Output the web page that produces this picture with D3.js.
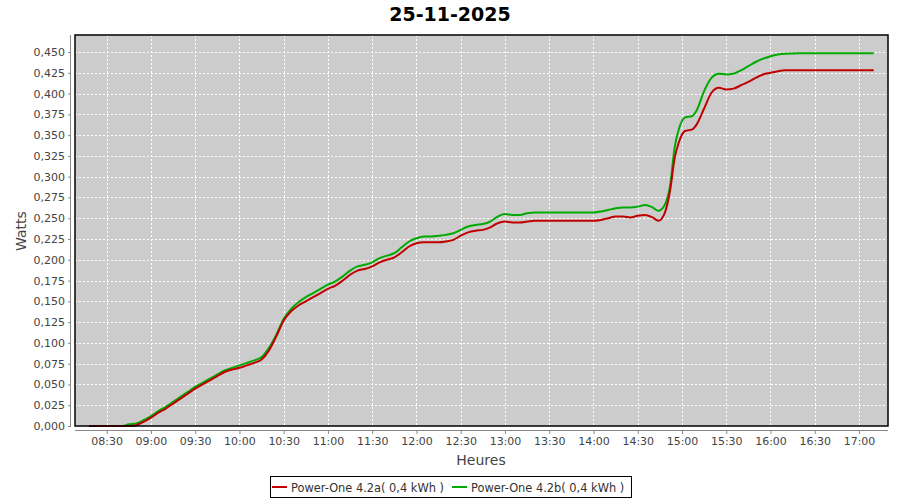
<!DOCTYPE html>
<html><head><meta charset="utf-8">
<script src="https://cdn.jsdelivr.net/npm/d3@7"></script>
<style>body{margin:0;background:#fff;}svg{display:block;font-family:"DejaVu Sans",sans-serif;}</style>
</head><body><svg id="c" width="900" height="500"></svg>
<script>
const title = "25-11-2025";
const times = ["08:18","08:40","08:45","08:50","08:55","09:00","09:05","09:10","09:15","09:20","09:25","09:30","09:35","09:40","09:45","09:50","09:55","10:00","10:05","10:10","10:15","10:20","10:25","10:30","10:35","10:40","10:45","10:50","10:55","11:00","11:05","11:10","11:15","11:20","11:25","11:30","11:35","11:40","11:45","11:50","11:55","12:00","12:05","12:10","12:15","12:20","12:25","12:30","12:35","12:40","12:45","12:50","12:55","13:00","13:05","13:10","13:15","13:20","13:30","13:45","14:00","14:05","14:10","14:15","14:20","14:25","14:30","14:35","14:40","14:44","14:48","14:52","14:55","14:58","15:02","15:07","15:10","15:15","15:20","15:25","15:30","15:35","15:40","15:45","15:50","15:55","16:00","16:05","16:10","16:20","17:10"];
const seriesA = [0,0,0,0.001,0.005,0.010,0.016,0.021,0.027,0.033,0.039,0.045,0.050,0.055,0.060,0.065,0.068,0.070,0.073,0.076,0.080,0.091,0.108,0.127,0.138,0.145,0.150,0.155,0.160,0.165,0.169,0.175,0.182,0.187,0.189,0.192,0.197,0.200,0.203,0.209,0.216,0.220,0.221,0.221,0.221,0.222,0.224,0.229,0.233,0.235,0.236,0.239,0.244,0.246,0.245,0.245,0.246,0.247,0.247,0.247,0.247,0.248,0.250,0.252,0.252,0.251,0.253,0.254,0.251,0.247,0.255,0.284,0.322,0.342,0.355,0.357,0.363,0.382,0.401,0.407,0.405,0.406,0.410,0.414,0.419,0.423,0.425,0.427,0.428,0.428,0.428];
const seriesB = [0,0,0.002,0.003,0.007,0.012,0.018,0.023,0.029,0.035,0.041,0.047,0.052,0.057,0.062,0.067,0.070,0.073,0.076,0.079,0.083,0.094,0.110,0.129,0.141,0.149,0.155,0.160,0.165,0.170,0.174,0.180,0.187,0.192,0.194,0.197,0.202,0.205,0.208,0.215,0.222,0.226,0.228,0.228,0.229,0.230,0.232,0.236,0.240,0.242,0.243,0.246,0.252,0.255,0.254,0.254,0.256,0.257,0.257,0.257,0.257,0.258,0.260,0.262,0.263,0.263,0.264,0.266,0.263,0.259,0.265,0.290,0.335,0.358,0.371,0.373,0.380,0.403,0.419,0.424,0.423,0.424,0.428,0.433,0.438,0.442,0.445,0.447,0.448,0.4485,0.4485];
const seriesNames = ["Power-One 4.2a( 0,4 kWh )","Power-One 4.2b( 0,4 kWh )"];
const seriesColors = ["#c00000","#00aa00"];
const xTickLabels = ["08:30","09:00","09:30","10:00","10:30","11:00","11:30","12:00","12:30","13:00","13:30","14:00","14:30","15:00","15:30","16:00","16:30","17:00"];
const yTicks = [0,0.025,0.05,0.075,0.1,0.125,0.15,0.175,0.2,0.225,0.25,0.275,0.3,0.325,0.35,0.375,0.4,0.425,0.45];

const parseT = s => d3.timeParse("%Y-%m-%d %H:%M")("2025-11-25 " + s);
const svg = d3.select("#c");
const L = 75, R = 888, T = 35, B = 426;
const x = d3.scaleTime().domain([d3.timeParse("%Y-%m-%d %H:%M:%S")("2025-11-25 08:08:30"), d3.timeParse("%Y-%m-%d %H:%M:%S")("2025-11-25 17:19:40")]).range([L, R]);
const y = d3.scaleLinear().domain([0, 0.4705]).range([B, T]);
const fmtY = v => d3.format(".3f")(v).replace(".", ",");

svg.append("text").attr("x", 450).attr("y", 21).attr("text-anchor", "middle")
  .attr("font-size", 19).attr("font-weight", "bold").attr("fill", "#000").text(title);

svg.append("rect").attr("x", L).attr("y", T).attr("width", R - L).attr("height", B - T).attr("fill", "#cccccc");

const xt = xTickLabels.map(parseT);
const grid = svg.append("g");
grid.selectAll("line.v").data(xt).enter().append("line")
  .attr("x1", d => Math.round(x(d)) + 0.5).attr("x2", d => Math.round(x(d)) + 0.5)
  .attr("y1", T).attr("y2", B).attr("stroke", "#fff").attr("stroke-dasharray", "2,2");
grid.selectAll("line.h").data(yTicks).enter().append("line")
  .attr("y1", d => Math.round(y(d)) + 0.5).attr("y2", d => Math.round(y(d)) + 0.5)
  .attr("x1", L).attr("x2", R).attr("stroke", "#fff").attr("stroke-dasharray", "2,2");

// axes
const xAxis = d3.axisBottom(x).tickValues(xt).tickFormat(d3.timeFormat("%H:%M")).tickSizeInner(4).tickSizeOuter(0).tickPadding(3);
const gx = svg.append("g").attr("transform", `translate(0,${B + 4})`).call(xAxis);
gx.select(".domain").attr("stroke", "#888").attr("d", `M${L},0.5H${R}`);
gx.selectAll(".tick line").attr("stroke", "#888");
gx.selectAll("text").attr("font-size", 11).attr("fill", "#444").attr("font-family", "DejaVu Sans");

const yAxis = d3.axisLeft(y).tickValues(yTicks).tickFormat(fmtY).tickSizeInner(3).tickSizeOuter(0).tickPadding(3);
const gy = svg.append("g").attr("transform", `translate(${L - 4},0)`).call(yAxis);
gy.select(".domain").attr("stroke", "#888").attr("d", `M-0.5,${T}V${B}`);
gy.selectAll(".tick line").attr("stroke", "#888");
gy.selectAll("text").attr("font-size", 11).attr("fill", "#444").attr("font-family", "DejaVu Sans");

// lines
const dataA = times.map((t, i) => ({t: parseT(t), v: seriesA[i]}));
const dataB = times.map((t, i) => ({t: parseT(t), v: seriesB[i]}));
const line = d3.line().x(d => x(d.t)).y(d => y(d.v)).curve(d3.curveMonotoneX);
svg.append("path").datum(dataB).attr("d", line).attr("fill", "none").attr("stroke", seriesColors[1]).attr("stroke-width", 2);
svg.append("path").datum(dataA).attr("d", line).attr("fill", "none").attr("stroke", seriesColors[0]).attr("stroke-width", 2);

svg.append("rect").attr("x", L).attr("y", T).attr("width", R - L).attr("height", B - T)
  .attr("fill", "none").attr("stroke", "#000").attr("stroke-width", 1.5);

// axis titles
svg.append("text").attr("x", 481).attr("y", 465).attr("text-anchor", "middle")
  .attr("font-size", 14).attr("fill", "#444").text("Heures");
svg.append("text").attr("transform", "translate(26,231) rotate(-90)").attr("text-anchor", "middle")
  .attr("font-size", 14).attr("fill", "#444").text("Watts");

// legend
const lg = svg.append("g");
lg.append("rect").attr("x", 270.5).attr("y", 476.5).attr("width", 361).attr("height", 21)
  .attr("fill", "#fff").attr("stroke", "#000");
const lx = [272, 452];
seriesNames.forEach((n, i) => {
  lg.append("line").attr("x1", lx[i]).attr("x2", lx[i] + 15).attr("y1", 487).attr("y2", 487)
    .attr("stroke", seriesColors[i]).attr("stroke-width", 2);
  lg.append("text").attr("x", lx[i] + 19).attr("y", 491.5).attr("font-size", 11.4).attr("fill", "#333").text(n);
});
</script></body></html>
